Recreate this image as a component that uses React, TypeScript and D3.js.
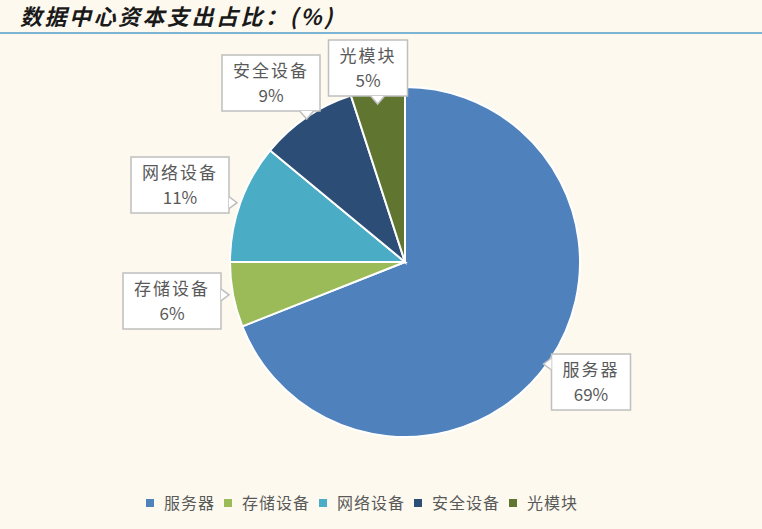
import * as d3 from "d3";

const categories = ["服务器", "存储设备", "网络设备", "安全设备", "光模块"];
const shares = [69, 6, 11, 9, 5];
const colors = ["#4F81BD", "#9BBB59", "#4BACC6", "#2C4D75", "#5F7530"];
// label box offset from the pie center, px
const labelOffsets = [
  [186, 120],
  [-233, 39],
  [-225, -77],
  [-134, -179],
  [-37, -194],
];

const W = 762;
const H = 529;
const cx = 405;
const cy = 262;
const R = 175;
const font = "'Noto Sans CJK SC', 'Noto Sans', sans-serif";

export default function App() {
  const data = categories.map((name, i) => ({ name, value: shares[i], color: colors[i] }));
  const pie = d3.pie<any>().value((d) => d.value).sort(null);
  const arc = d3.arc<any>().innerRadius(0).outerRadius(R);
  const arcs = pie(data);

  // legend layout
  const legendY = 508;
  let lx = 146;
  const legendItems = data.map((d) => {
    const item = { ...d, x: lx };
    lx += 18 + d.name.length * 17 + 9;
    return item;
  });

  return (
    <svg width={W} height={H} style={{ position: "absolute", left: 0, top: 0 }} fontFamily={font}>
      <rect width={W} height={H} fill="#FDF9EF" />
      <text x={20} y={25} fontSize={22} fontWeight="bold" fontStyle="italic" fill="#1a1a1a" letterSpacing={2.5}>
        数据中心资本支出占比：(%)
      </text>
      <line x1={0} x2={W} y1={33} y2={33} stroke="#7DB3D3" strokeWidth={2} />

      <g transform={`translate(${cx},${cy})`}>
        {arcs.map((a, i) => (
          <path key={i} d={arc(a) as string} fill={a.data.color} stroke="#fff" strokeWidth={2} />
        ))}
        {arcs.map((a, i) => {
          const [ox, oy] = labelOffsets[i];
          const name = a.data.name;
          const bw = name.length * 19 + 22;
          const bh = 56;
          const x0 = ox - bw / 2;
          const y0 = oy - bh / 2;
          // pointer toward the slice edge
          const mid = (a.startAngle + a.endAngle) / 2;
          const ex = Math.sin(mid) * R;
          const ey = -Math.cos(mid) * R;
          let ptr = "";
          if (Math.abs(ex - ox) > Math.abs(ey - oy) * 1.2) {
            const side = ex > ox ? x0 + bw : x0;
            const py = Math.max(y0 + 10, Math.min(y0 + bh - 10, ey));
            const dir = ex > ox ? 1 : -1;
            ptr = `M${side},${py - 6}L${side + dir * 8},${py}L${side},${py + 6}`;
          } else if (i === 0) {
            ptr = `M${x0},${y0 + 10}L${x0 - 3},${y0 - 6}L${x0 + 10},${y0}`;
          } else {
            const side = ey > oy ? y0 + bh : y0;
            const px = Math.max(x0 + 12, Math.min(x0 + bw - 12, ex));
            const dir = ey > oy ? 1 : -1;
            ptr = `M${px - 7},${side}L${px},${side + dir * 8}L${px + 7},${side}`;
          }
          return (
            <g key={"l" + i}>
              <rect x={x0} y={y0} width={bw} height={bh} fill="#fff" stroke="#BFBFBF" strokeWidth={1.5} />
              <path d={ptr} fill="#fff" stroke="#BFBFBF" strokeWidth={1.5} />
              <text x={ox} y={oy - 6} textAnchor="middle" fontSize={17} fill="#595959" letterSpacing={2}>
                {name}
              </text>
              <text x={ox} y={oy + 19} textAnchor="middle" fontSize={17} fill="#595959">
                {a.data.value}%
              </text>
            </g>
          );
        })}
      </g>

      <g>
        {legendItems.map((d, i) => (
          <g key={i}>
            <rect x={d.x} y={legendY - 9} width={8} height={8} fill={d.color} />
            <text x={d.x + 18} y={legendY + 1} fontSize={16} fill="#595959" letterSpacing={1}>
              {d.name}
            </text>
          </g>
        ))}
      </g>
    </svg>
  );
}
